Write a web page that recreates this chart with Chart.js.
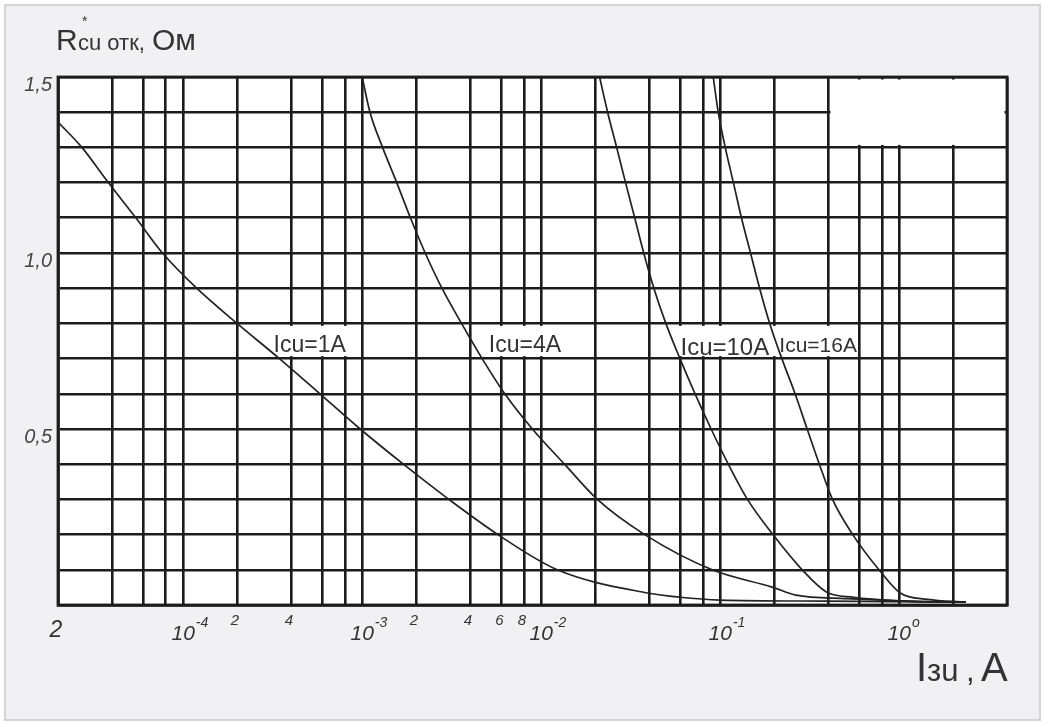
<!DOCTYPE html>
<html>
<head>
<meta charset="utf-8">
<script src="https://cdn.jsdelivr.net/npm/chart.js@4.4.1/dist/chart.umd.min.js"></script>
<style>
html, body { margin: 0; padding: 0; background: #fff; }
#frame { position: absolute; left: 4px; top: 4px; width: 1033px; height: 713px; border: 2px solid #d4d4d6; background: #f1f1f3; }
#myChart { position: absolute; left: 0; top: 0; }
</style>
</head>
<body>
<div id="frame"></div>
<canvas id="myChart" width="1048" height="727"></canvas>
<script>
// curves: gate current (A) vs resistance (Ohm)
const x1A = [2e-5, 2.72e-5, 3.82e-5, 5.44e-5, 7.67e-5, 1.19e-4, 2.0e-4, 3.45e-4, 5.81e-4, 9.75e-4, 1.70e-3, 3.05e-3, 5.73e-3, 1.23e-2, 3.94e-2, 5.96e-2, 0.1, 0.392, 2.36];
const r1A = [1.372, 1.3, 1.2, 1.1, 1.0, 0.9, 0.8, 0.7, 0.6, 0.5, 0.4, 0.3, 0.2, 0.1, 0.034, 0.022, 0.014, 0.011, 0.008];

const x4A = [1e-3, 1.106e-3, 1.30e-3, 1.56e-3, 1.86e-3, 2.25e-3, 2.79e-3, 3.59e-3, 4.68e-3, 6.26e-3, 8.93e-3, 1.35e-2, 2.06e-2, 3.79e-2, 9.02e-2, 0.197, 0.265, 0.508, 1, 2.36];
const r4A = [1.5, 1.4, 1.3, 1.2, 1.1, 1.0, 0.9, 0.8, 0.7, 0.6, 0.5, 0.4, 0.3, 0.2, 0.1, 0.05, 0.028, 0.018, 0.012, 0.008];

const x10A = [2.12e-2, 2.35e-2, 2.64e-2, 2.96e-2, 3.33e-2, 3.74e-2, 4.26e-2, 4.97e-2, 5.96e-2, 7.24e-2, 8.90e-2, 0.111, 0.142, 0.197, 0.287, 0.392, 0.557, 1, 2.36];
const r10A = [1.5, 1.4, 1.3, 1.2, 1.1, 1.0, 0.9, 0.8, 0.7, 0.6, 0.5, 0.4, 0.3, 0.2, 0.1, 0.037, 0.022, 0.012, 0.008];

const x16A = [9.14e-2, 9.75e-2, 0.1067, 0.1185, 0.1314, 0.1477, 0.166, 0.189, 0.221, 0.262, 0.306, 0.358, 0.424, 0.550, 0.771, 1.013, 1.44, 2.36];
const r16A = [1.5, 1.4, 1.3, 1.2, 1.1, 1.0, 0.9, 0.8, 0.7, 0.6, 0.5, 0.4, 0.3, 0.2, 0.1, 0.034, 0.016, 0.008];

// curve labels (left edge / baseline in data units)
const labelTexts = ['Icu=1A', 'Icu=4A', 'Icu=10A', 'Icu=16A'];
const labelX = [3.2e-4, 5.1e-3, 6.0e-2, 0.214];
const labelY = [0.72, 0.72, 0.71, 0.72];

// blank cells of the grid (label boxes and the empty top-right corner)
const boxFrom = [2e-4, 4e-3, 4e-2, 0.4];
const boxTo = [1e-3, 2e-2, 0.6, 4];
const boxLow = [0.7, 0.7, 0.7, 1.3];
const boxHigh = [0.8, 0.8, 0.8, 1.5];

// axes
const xGridValues = [2e-5, 4e-5, 6e-5, 8e-5, 1e-4, 2e-4, 4e-4, 6e-4, 8e-4, 1e-3, 2e-3, 4e-3, 6e-3, 8e-3, 1e-2,
    2e-2, 4e-2, 6e-2, 8e-2, 0.1, 0.2, 0.4, 0.6, 0.8, 1, 2, 4];
const xTickValues = [2e-5, 1e-4, 2e-4, 4e-4, 1e-3, 2e-3, 4e-3, 6e-3, 8e-3, 1e-2, 1e-1, 1];
const xTickBases = ['2', '10', '2', '4', '10', '2', '4', '6', '8', '10', '10', '10'];
const xTickExps = ['', '-4', '', '', '-3', '', '', '', '', '-2', '-1', 'o'];
const yTickValues = [0.5, 1.0, 1.5];
const yTickTexts = ['0,5', '1,0', '1,5'];

const FONT = '"Liberation Sans", Arial, sans-serif';
const INK = '#1c1c1c';
const GRID_W = 2.6;

function toPoints(xs, ys) {
    return xs.map((x, i) => ({ x: x, y: ys[i] }));
}

const paperPlugin = {
    id: 'paper',
    beforeDraw(chart) {
        const a = chart.chartArea, c = chart.ctx;
        c.save();
        c.fillStyle = '#fff';
        c.fillRect(a.left, a.top, a.right - a.left, a.bottom - a.top);
        c.restore();
    },
    beforeDatasetsDraw(chart) {
        const xs = chart.scales.x, ys = chart.scales.y, c = chart.ctx;
        const pad = 2.5;
        c.save();
        c.fillStyle = '#fff';
        boxFrom.forEach((f, i) => {
            const l = xs.getPixelForValue(f) + pad, r = xs.getPixelForValue(boxTo[i]) - pad;
            const t = ys.getPixelForValue(boxHigh[i]) + pad, b = ys.getPixelForValue(boxLow[i]) - pad;
            c.fillRect(l, t, r - l, b - t);
        });
        c.restore();
    },
    afterDraw(chart) {
        const xs = chart.scales.x, ys = chart.scales.y, c = chart.ctx, a = chart.chartArea;
        c.save();

        // outer frame of the grid
        c.strokeStyle = INK;
        c.lineWidth = 2.8;
        c.strokeRect(a.left, a.top, a.right - a.left, a.bottom - a.top);

        c.fillStyle = '#333';
        c.textBaseline = 'alphabetic';

        // curve labels
        c.textAlign = 'left';
        labelTexts.forEach((txt, i) => {
            c.font = (i === 3 ? '21px ' : i === 2 ? '24px ' : '23px ') + FONT;
            c.fillText(txt, xs.getPixelForValue(labelX[i]), ys.getPixelForValue(labelY[i]));
        });

        // x tick labels
        xTickValues.forEach((v, i) => {
            const px = xs.getPixelForValue(v);
            const base = xTickBases[i], exp = xTickExps[i];
            if (exp) {
                c.font = 'italic 21px ' + FONT;
                const w = c.measureText(base).width;
                c.textAlign = 'left';
                c.fillText(base, px - w / 2, 640);
                c.font = 'italic 14px ' + FONT;
                c.fillText(exp, px + w / 2 + 1, 627);
            } else if (v === xs.min) {
                c.font = 'italic 23px ' + FONT;
                c.textAlign = 'center';
                c.fillText(base, px - 2, 637);
            } else {
                c.font = 'italic 15px ' + FONT;
                c.textAlign = 'center';
                c.fillText(base, px - 2, 625);
            }
        });

        // axis titles
        c.textAlign = 'left';
        c.font = '30px ' + FONT;
        c.fillText('R', 56, 50);
        c.font = '14px ' + FONT;
        c.fillText('*', 82, 26);
        c.font = '22px ' + FONT;
        c.fillText('cu отк,', 78, 50);
        c.font = '30px ' + FONT;
        c.fillText('Ом', 152, 50);

        c.font = '40px ' + FONT;
        c.fillText('I', 916, 681);
        c.font = '31px ' + FONT;
        c.fillText('зu', 927, 681);
        c.fillText(',', 966, 681);
        c.font = '40px ' + FONT;
        c.fillText('A', 981, 681);
        c.restore();
    }
};

const ctx = document.getElementById('myChart').getContext('2d');
new Chart(ctx, {
    type: 'line',
    data: {
        datasets: [
            { label: labelTexts[0], data: toPoints(x1A, r1A) },
            { label: labelTexts[1], data: toPoints(x4A, r4A) },
            { label: labelTexts[2], data: toPoints(x10A, r10A) },
            { label: labelTexts[3], data: toPoints(x16A, r16A) }
        ].map(ds => Object.assign(ds, {
            borderColor: '#222',
            borderWidth: 1.7,
            pointRadius: 0,
            fill: false,
            cubicInterpolationMode: 'monotone'
        }))
    },
    options: {
        responsive: false,
        animation: false,
        devicePixelRatio: 1,
        layout: { padding: { top: 77, right: 41, left: 0, bottom: 0 } },
        plugins: { legend: { display: false }, tooltip: { enabled: false } },
        scales: {
            x: {
                type: 'logarithmic',
                min: 2e-5,
                max: 4,
                afterBuildTicks: scale => { scale.ticks = xGridValues.map(v => ({ value: v })); },
                afterFit: scale => { scale.height = 122; },
                ticks: { display: false },
                grid: { color: INK, lineWidth: GRID_W, drawTicks: false },
                border: { display: true, color: INK, width: GRID_W }
            },
            y: {
                type: 'linear',
                min: 0,
                max: 1.5,
                afterFit: scale => { scale.width = 58; },
                ticks: {
                    stepSize: 0.1,
                    padding: 6,
                    labelOffset: 8,
                    color: '#444',
                    font: { family: FONT, size: 20, style: 'italic' },
                    callback: v => {
                        const i = yTickValues.findIndex(t => Math.abs(t - v) < 1e-6);
                        return i >= 0 ? yTickTexts[i] : '';
                    }
                },
                grid: { color: INK, lineWidth: GRID_W, drawTicks: false },
                border: { display: true, color: INK, width: GRID_W }
            }
        }
    },
    plugins: [paperPlugin]
});
</script>
</body>
</html>
